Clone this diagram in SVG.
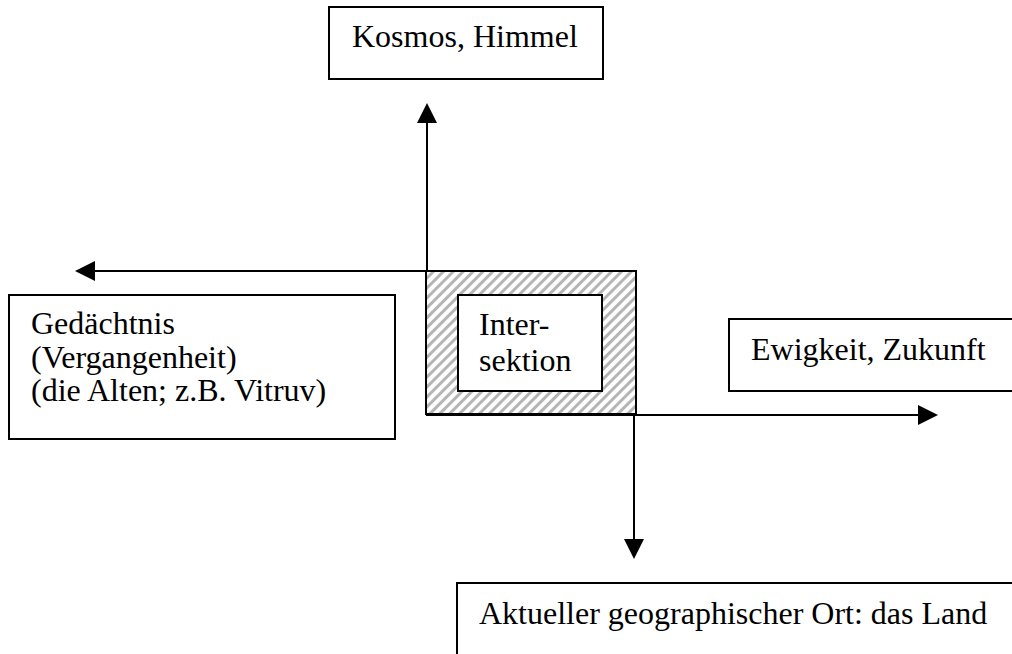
<svg xmlns="http://www.w3.org/2000/svg" width="1012" height="654" viewBox="0 0 1012 654">
  <style>
    .box { fill: #ffffff; stroke: #000000; stroke-width: 2; }
    .lbl { font-family: "Liberation Serif", "Times New Roman", serif; font-size: 32px; fill: #000000; }
    .conn { fill: none; stroke: #000000; stroke-width: 2; }
  </style>
  <defs>
    <!-- diagonal grey hatching for the intersection frame -->
    <pattern id="hatch" patternUnits="userSpaceOnUse" width="7" height="7" patternTransform="rotate(45)">
      <rect x="0" y="0" width="7" height="7" fill="#ffffff"/>
      <rect x="0" y="0" width="3" height="7" fill="#b5b5b5"/>
    </pattern>
    <marker id="arrow" viewBox="0 0 20 20" refX="0" refY="10" markerWidth="20" markerHeight="20" markerUnits="userSpaceOnUse" orient="auto">
      <path d="M0,0 L20,10 L0,20 z" fill="#000000"/>
    </marker>
  </defs>

  <rect width="1012" height="654" fill="#ffffff"/>

  <!-- axes -->
  <g id="connectors">
    <path class="conn" d="M427,272 L427,123" marker-end="url(#arrow)"/>
    <path class="conn" d="M636,271 L95,271" marker-end="url(#arrow)"/>
    <path class="conn" d="M426,415 L918,415" marker-end="url(#arrow)"/>
    <path class="conn" d="M634,415 L634,539" marker-end="url(#arrow)"/>
  </g>

  <g id="intersektion">
    <rect x="426" y="271" width="210" height="143" fill="url(#hatch)" stroke="#000000" stroke-width="2"/>
    <rect class="box" x="458" y="295" width="144" height="96"/>
    <text class="lbl" x="479" y="335">Inter-</text>
    <text class="lbl" x="479" y="371">sektion</text>
  </g>

  <g id="kosmos">
    <rect class="box" x="329" y="7" width="274" height="72"/>
    <text class="lbl" x="352" y="47">Kosmos, Himmel</text>
  </g>

  <g id="gedaechtnis">
    <rect class="box" x="9" y="295" width="386" height="144"/>
    <text class="lbl" x="31" y="334">Gedächtnis</text>
    <text class="lbl" x="31" y="368">(Vergangenheit)</text>
    <text class="lbl" x="31" y="401">(die Alten; z.B. Vitruv)</text>
  </g>

  <g id="ewigkeit">
    <rect class="box" x="729" y="319" width="300" height="72"/>
    <text class="lbl" x="751" y="360">Ewigkeit, Zukunft</text>
  </g>

  <g id="ort">
    <rect class="box" x="457" y="583" width="600" height="100"/>
    <text class="lbl" x="479" y="624">Aktueller geographischer Ort: das Land</text>
  </g>
</svg>
